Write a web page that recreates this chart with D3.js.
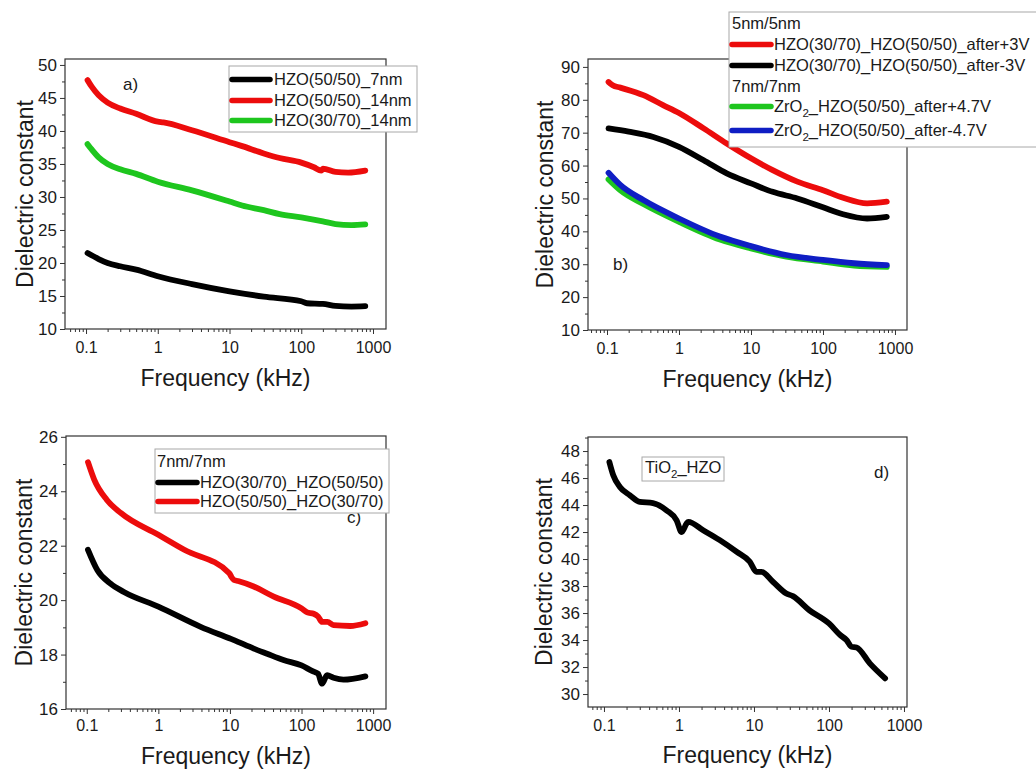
<!DOCTYPE html>
<html>
<head>
<meta charset="utf-8">
<script src="https://cdn.jsdelivr.net/npm/d3@7"></script>
<style>
  body { margin: 0; background: #fff; }
  text { font-family: "Liberation Sans", Arial, sans-serif; fill: #1a1a1a; }
</style>
</head>
<body>
<svg id="fig" width="1036" height="769"></svg>
<script>
// ---- data ----
const xTicks = [0.1, 1, 10, 100, 1000];

// a)
const fA_7nm = [0.105, 0.15, 0.2, 0.3, 0.5, 1, 3, 10, 30, 100, 120, 200, 300, 500, 780];
const epsA_7nm = [21.5, 20.6, 20.0, 19.5, 19.0, 18.0, 16.8, 15.7, 14.9, 14.2, 13.9, 13.8, 13.5, 13.4, 13.45];
const fA_5050_14 = [0.105, 0.12, 0.15, 0.2, 0.3, 0.5, 1, 1.2, 3, 10, 15, 30, 50, 100, 150, 190, 200, 300, 450, 780];
const epsA_5050_14 = [47.7, 46.7, 45.4, 44.3, 43.4, 42.6, 41.4, 41.3, 40.1, 38.3, 37.7, 36.6, 35.9, 35.2, 34.5, 34.0, 34.3, 33.8, 33.7, 34.0];
const fA_3070_14 = [0.105, 0.12, 0.15, 0.2, 0.3, 0.5, 1, 3, 10, 15, 30, 50, 100, 200, 300, 500, 780];
const epsA_3070_14 = [38.0, 37.2, 36.0, 35.0, 34.2, 33.5, 32.3, 31.0, 29.3, 28.7, 28.0, 27.4, 26.9, 26.3, 25.9, 25.75, 25.85];

// b)
const fB_p3 = [0.105, 0.12, 0.153, 0.32, 0.6, 1, 2.2, 4.6, 10, 20, 44, 100, 190, 410, 770];
const epsB_p3 = [85.4, 84.4, 83.7, 81.4, 78.4, 76.0, 71.3, 66.7, 62.2, 58.6, 55.1, 52.5, 50.2, 48.5, 49.0];
const fB_m3 = [0.105, 0.2, 0.44, 1, 2.2, 4.6, 10, 20, 44, 100, 190, 410, 770];
const epsB_m3 = [71.3, 70.3, 68.7, 65.7, 61.6, 57.6, 54.6, 52.0, 50.0, 47.3, 45.2, 43.9, 44.4];
const fB_p47 = [0.105, 0.153, 0.32, 1, 3.7, 10, 31, 100, 270, 770];
const epsB_p47 = [55.8, 52.5, 48.3, 42.9, 37.5, 34.8, 32.3, 30.8, 29.6, 29.2];
const fB_m47 = [0.105, 0.153, 0.32, 1, 3.7, 10, 31, 100, 270, 770];
const epsB_m47 = [57.8, 54.1, 49.5, 43.9, 38.4, 35.5, 32.8, 31.3, 30.3, 29.7];

// c)
const fC_3070 = [0.104, 0.141, 0.216, 0.33, 1, 3.9, 9.8, 11.4, 21.5, 33, 56, 100, 140, 170, 194, 227, 280, 385, 780];
const epsC_3070 = [21.85, 21.1, 20.6, 20.3, 19.76, 19.02, 18.6, 18.53, 18.22, 18.03, 17.8, 17.6, 17.4, 17.3, 16.93, 17.24, 17.15, 17.08, 17.2];
const fC_5050 = [0.104, 0.127, 0.19, 0.3, 1, 2.3, 9.8, 10.5, 11.4, 13, 21.5, 41, 100, 120, 148, 170, 194, 230, 280, 480, 780];
const epsC_5050 = [25.07, 24.43, 23.69, 23.2, 22.4, 21.85, 20.99, 20.85, 20.74, 20.7, 20.5, 20.13, 19.7, 19.55, 19.5, 19.4, 19.2, 19.2, 19.08, 19.05, 19.15];

// d)
const fD_TiO2 = [0.118, 0.133, 0.163, 0.222, 0.30, 0.45, 0.685, 0.93, 1.085, 1.26, 1.33, 2.1, 3.5, 5.9, 8.8, 10.8, 12.6, 18, 27, 33, 55, 100, 141, 171, 200, 233, 350, 560];
const epsD_TiO2 = [47.19, 46.2, 45.34, 44.72, 44.23, 44.15, 43.6, 42.87, 42.0, 42.62, 42.75, 42.13, 41.4, 40.53, 39.8, 39.05, 39.05, 38.3, 37.45, 37.25, 36.2, 35.23, 34.37, 34.0, 33.5, 33.45, 32.27, 31.16];

const RED = "#ec0c0c", BLACK = "#000", GREEN = "#1ec61e", BLUE = "#0f1ec4";

const svg = d3.select("#fig");

function addLabel(sel, str) {
  // subscript the 2 in ZrO2 / TiO2
  const parts = str.split(/(?<=(?:Zr|Ti)O)2/);
  parts.forEach((p, i) => {
    if (i > 0) {
      sel.append("tspan").attr("dy", 5).attr("font-size", "0.7em").text("2");
      sel.append("tspan").attr("dy", -5).text(p);
    } else sel.append("tspan").text(p);
  });
}

function panel(p) {
  const g = svg.append("g");
  const x = d3.scaleLog().domain(p.xDom).range([p.l, p.r]);
  const y = d3.scaleLinear().domain(p.yDom).range([p.b, p.t]);

  // x minor ticks
  const xMinor = [];
  for (let e = -2; e <= 3; e++)
    for (let k = 2; k <= 9; k++) {
      const v = k * Math.pow(10, e);
      if (v >= p.xDom[0] && v <= p.xDom[1]) xMinor.push(v);
    }
  g.append("g").attr("transform", `translate(0,${p.b})`)
    .call(d3.axisBottom(x).tickValues(xMinor).tickSize(3).tickFormat(""))
    .call(s => s.select(".domain").remove());
  g.append("g").attr("transform", `translate(0,${p.b})`)
    .call(d3.axisBottom(x).tickValues(xTicks).tickSize(5).tickPadding(p.xPad).tickFormat(d3.format("~g")))
    .call(s => s.select(".domain").remove())
    .call(s => s.selectAll("text").attr("font-size", 16));

  // y ticks
  const yMinor = d3.range(p.yTicks[0] + p.yStep / 2, p.yDom[1] + 1e-6, p.yStep);
  g.append("g").attr("transform", `translate(${p.l},0)`)
    .call(d3.axisLeft(y).tickValues(yMinor).tickSize(3).tickFormat(""))
    .call(s => s.select(".domain").remove());
  g.append("g").attr("transform", `translate(${p.l},0)`)
    .call(d3.axisLeft(y).tickValues(p.yTicks).tickSize(5).tickPadding(3))
    .call(s => s.select(".domain").remove())
    .call(s => s.selectAll("text").attr("font-size", 17));
  g.selectAll(".tick line").attr("stroke", "#333");

  // frame
  g.append("rect").attr("x", p.l).attr("y", p.t)
    .attr("width", p.r - p.l).attr("height", p.b - p.t)
    .attr("fill", "none").attr("stroke", "#333").attr("stroke-width", 1.2);

  // curves
  const line = d3.line().x(d => x(d[0])).y(d => y(d[1])).curve(d3.curveMonotoneX);
  p.series.forEach(s => {
    g.append("path").datum(d3.zip(s.f, s.v))
      .attr("d", line).attr("fill", "none").attr("stroke", s.color)
      .attr("stroke-width", 5.8).attr("stroke-linecap", "round").attr("stroke-linejoin", "round");
  });

  // axis titles
  g.append("text").attr("x", (p.l + p.r) / 2).attr("y", p.b + p.titleOff)
    .attr("text-anchor", "middle").attr("font-size", 23).text("Frequency (kHz)");
  g.append("text").attr("transform", `translate(${p.yLabX},${(p.t + p.b) / 2}) rotate(-90)`)
    .attr("text-anchor", "middle").attr("font-size", 23).text("Dielectric constant");

  // panel tag
  g.append("text").attr("x", p.tag[0]).attr("y", p.tag[1]).attr("font-size", 17).text(p.tag[2]);

  // legend
  const L = p.legend;
  const lg = g.append("g");
  lg.append("rect").attr("x", L.box[0]).attr("y", L.box[1])
    .attr("width", L.box[2]).attr("height", L.box[3])
    .attr("fill", "#fff").attr("stroke", "#a8a8a8").attr("stroke-width", 1);
  L.rows.forEach(r => {
    if (r.color) {
      lg.append("line").attr("x1", L.lx[0]).attr("x2", L.lx[1]).attr("y1", r.y - 5.5).attr("y2", r.y - 5.5)
        .attr("stroke", r.color).attr("stroke-width", 5.5).attr("stroke-linecap", "round");
      addLabel(lg.append("text").attr("x", L.tx).attr("y", r.y).attr("font-size", 16.5), r.text);
    } else {
      addLabel(lg.append("text").attr("x", L.hx).attr("y", r.y).attr("font-size", 16.5), r.text);
    }
  });
}

panel({
  l: 65, r: 386, t: 59, b: 329, xPad: 8, titleOff: 57,
  xDom: [Math.pow(10, -1.293), Math.pow(10, 3.181)], yDom: [10, 50.9],
  yTicks: d3.range(10, 51, 5), yStep: 5, yLabX: 33,
  tag: [123, 90, "a)"],
  series: [
    { f: fA_7nm, v: epsA_7nm, color: BLACK },
    { f: fA_5050_14, v: epsA_5050_14, color: RED },
    { f: fA_3070_14, v: epsA_3070_14, color: GREEN }
  ],
  legend: {
    box: [229, 66, 188, 66], lx: [232, 270], tx: 274, hx: 232,
    rows: [
      { text: "HZO(50/50)_7nm", color: BLACK, y: 85 },
      { text: "HZO(50/50)_14nm", color: RED, y: 106 },
      { text: "HZO(30/70)_14nm", color: GREEN, y: 126 }
    ]
  }
});

panel({
  l: 588, r: 907, t: 59, b: 330, xPad: 8, titleOff: 57,
  xDom: [Math.pow(10, -1.264), Math.pow(10, 3.167)], yDom: [10, 92.4],
  yTicks: d3.range(10, 91, 10), yStep: 10, yLabX: 553,
  tag: [613, 270, "b)"],
  series: [
    { f: fB_p3, v: epsB_p3, color: RED },
    { f: fB_m3, v: epsB_m3, color: BLACK },
    { f: fB_p47, v: epsB_p47, color: GREEN },
    { f: fB_m47, v: epsB_m47, color: BLUE }
  ],
  legend: {
    box: [729, 12, 320, 135], lx: [732, 771], tx: 774, hx: 732,
    rows: [
      { text: "5nm/5nm", y: 29 },
      { text: "HZO(30/70)_HZO(50/50)_after+3V", color: RED, y: 50 },
      { text: "HZO(30/70)_HZO(50/50)_after-3V", color: BLACK, y: 71 },
      { text: "7nm/7nm", y: 92 },
      { text: "ZrO2_HZO(50/50)_after+4.7V", color: GREEN, y: 112 },
      { text: "ZrO2_HZO(50/50)_after-4.7V", color: BLUE, y: 136 }
    ]
  }
});

panel({
  l: 66, r: 386, t: 436, b: 709, xPad: 6, titleOff: 55,
  xDom: [Math.pow(10, -1.29), Math.pow(10, 3.18)], yDom: [16, 26.03],
  yTicks: d3.range(16, 27, 2), yStep: 2, yLabX: 32,
  tag: [347, 523, "c)"],
  series: [
    { f: fC_3070, v: epsC_3070, color: BLACK },
    { f: fC_5050, v: epsC_5050, color: RED }
  ],
  legend: {
    box: [155, 449, 234, 64], lx: [158, 197], tx: 200, hx: 157,
    rows: [
      { text: "7nm/7nm", y: 467 },
      { text: "HZO(30/70)_HZO(50/50)", color: BLACK, y: 488 },
      { text: "HZO(50/50)_HZO(30/70)", color: RED, y: 507 }
    ]
  }
});

panel({
  l: 588, r: 907, t: 437, b: 707, xPad: 8, titleOff: 56,
  xDom: [Math.pow(10, -1.213), Math.pow(10, 3.04)], yDom: [29.04, 49.04],
  yTicks: d3.range(30, 49, 2), yStep: 2, yLabX: 552,
  tag: [874, 478, "d)"],
  series: [
    { f: fD_TiO2, v: epsD_TiO2, color: BLACK }
  ],
  legend: {
    box: [642, 457, 82, 24], lx: [0, 0], tx: 645, hx: 645,
    rows: [
      { text: "TiO2_HZO", y: 473 }
    ]
  }
});
</script>
</body>
</html>
